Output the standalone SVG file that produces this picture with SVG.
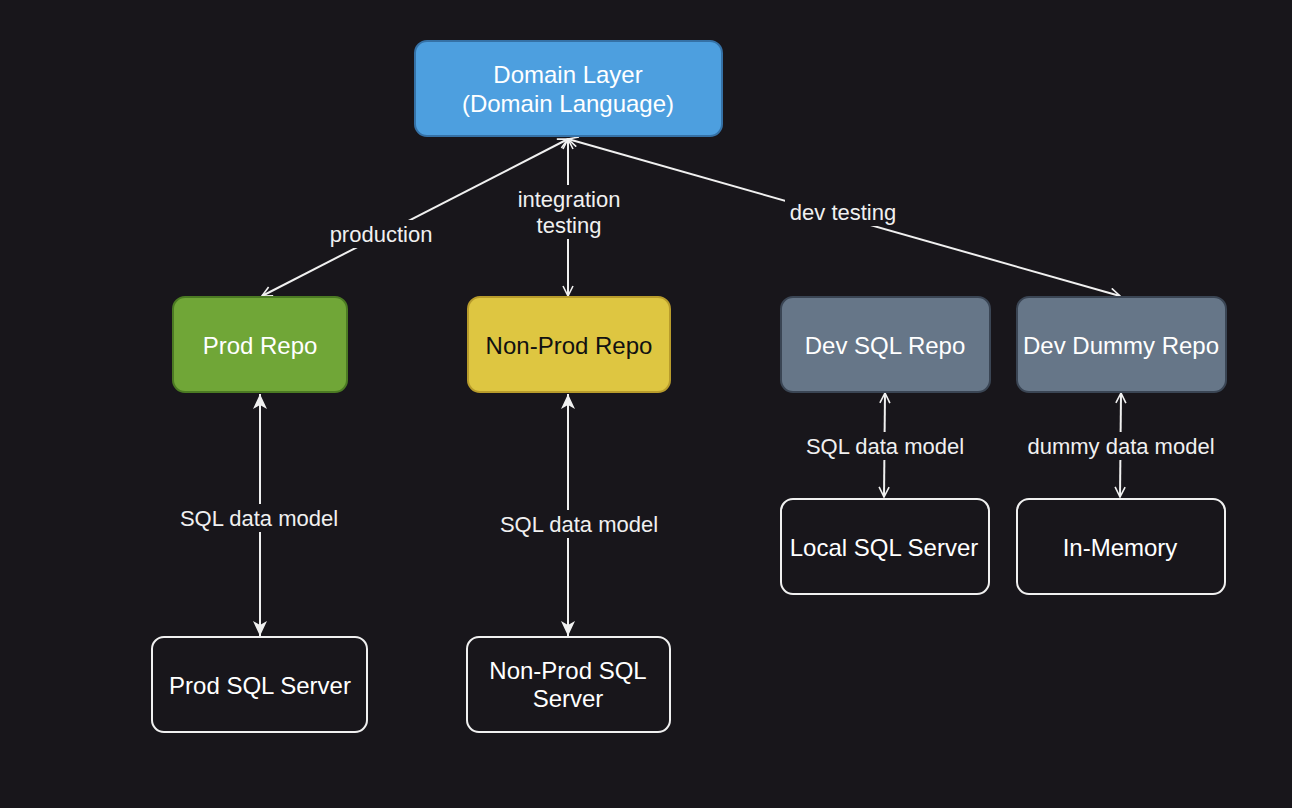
<svg xmlns="http://www.w3.org/2000/svg" width="1292" height="808" viewBox="0 0 1292 808">
<defs>
<marker id="open" viewBox="0 0 12 12" refX="11" refY="6" markerWidth="12" markerHeight="12" markerUnits="userSpaceOnUse" orient="auto-start-reverse">
<path d="M1,1 L11,6 L1,11" fill="none" stroke="#f0f0f0" stroke-width="1.6"/>
</marker>
<marker id="classic" viewBox="0 0 16 16" refX="15" refY="8" markerWidth="16" markerHeight="16" markerUnits="userSpaceOnUse" orient="auto-start-reverse">
<path d="M0,1 L15,8 L0,15 L4,8 Z" fill="#f0f0f0"/>
</marker>
<style>
.bg{fill:#18161b}
text{font-family:"Liberation Sans",Arial,Helvetica,sans-serif;text-anchor:middle;dominant-baseline:central}
.nt{font-size:24px;fill:#ffffff}
.lt{font-size:22px;fill:#f0f0f0}
.edge{fill:none;stroke:#f0f0f0;stroke-width:2}
.lbg{fill:#18161b}
.plain{fill:#18161b;stroke:#f0f0f0;stroke-width:2}
</style>
</defs>
<rect class="bg" x="0" y="0" width="1292" height="808"/>

<g id="connectors">
<line class="edge" x1="568" y1="139" x2="262" y2="296" marker-start="url(#open)" marker-end="url(#open)"/>
<line class="edge" x1="568" y1="139" x2="568" y2="296" marker-start="url(#open)" marker-end="url(#open)"/>
<line class="edge" x1="568" y1="139" x2="1120" y2="296" marker-start="url(#open)" marker-end="url(#open)"/>
<line class="edge" x1="260" y1="394" x2="260" y2="636" marker-start="url(#classic)" marker-end="url(#classic)"/>
<line class="edge" x1="568" y1="394" x2="568" y2="636" marker-start="url(#classic)" marker-end="url(#classic)"/>
<line class="edge" x1="885" y1="393" x2="884" y2="497" marker-start="url(#open)" marker-end="url(#open)"/>
<line class="edge" x1="1121" y1="393" x2="1120" y2="497" marker-start="url(#open)" marker-end="url(#open)"/>

<rect class="lbg" x="326" y="220" width="110" height="28"/>
<text class="lt" x="381" y="234">production</text>
<rect class="lbg" x="512" y="185" width="114" height="54"/>
<text class="lt" x="569" y="199">integration</text>
<text class="lt" x="569" y="225">testing</text>
<rect class="lbg" x="785" y="198" width="116" height="28"/>
<text class="lt" x="843" y="212">dev testing</text>
<rect class="lbg" x="176" y="504" width="166" height="28"/>
<text class="lt" x="259" y="518">SQL data model</text>
<rect class="lbg" x="496" y="510" width="166" height="28"/>
<text class="lt" x="579" y="524">SQL data model</text>
<rect class="lbg" x="802" y="432" width="166" height="28"/>
<text class="lt" x="885" y="446">SQL data model</text>
<rect class="lbg" x="1024" y="432" width="194" height="28"/>
<text class="lt" x="1121" y="446">dummy data model</text>
</g>

<g id="domain-layer">
<rect x="415" y="41" width="307" height="95" rx="12" fill="#4d9fdf" stroke="#3571a6" stroke-width="2"/>
<text class="nt" x="568" y="74">Domain Layer</text>
<text class="nt" x="568" y="103">(Domain Language)</text>
</g>

<g id="prod-repo">
<rect x="173" y="297" width="174" height="95" rx="12" fill="#70a637" stroke="#4b7a23" stroke-width="2"/>
<text class="nt" x="260" y="345">Prod Repo</text>
</g>

<g id="nonprod-repo">
<rect x="468" y="297" width="202" height="95" rx="12" fill="#dec641" stroke="#b89c2c" stroke-width="2"/>
<text class="nt" x="569" y="345" style="fill:#111111">Non-Prod Repo</text>
</g>

<g id="dev-sql-repo">
<rect x="781" y="297" width="209" height="95" rx="12" fill="#667688" stroke="#3a4554" stroke-width="2"/>
<text class="nt" x="885" y="345">Dev SQL Repo</text>
</g>

<g id="dev-dummy-repo">
<rect x="1017" y="297" width="209" height="95" rx="12" fill="#667688" stroke="#3a4554" stroke-width="2"/>
<text class="nt" x="1121" y="345">Dev Dummy Repo</text>
</g>

<g id="prod-sql-server">
<rect class="plain" x="152" y="637" width="215" height="95" rx="12"/>
<text class="nt" x="260" y="685">Prod SQL Server</text>
</g>

<g id="nonprod-sql-server">
<rect class="plain" x="467" y="637" width="203" height="95" rx="12"/>
<text class="nt" x="568" y="670">Non-Prod SQL</text>
<text class="nt" x="568" y="698">Server</text>
</g>

<g id="local-sql-server">
<rect class="plain" x="781" y="499" width="208" height="95" rx="12"/>
<text class="nt" x="884" y="547">Local SQL Server</text>
</g>

<g id="in-memory">
<rect class="plain" x="1017" y="499" width="208" height="95" rx="12"/>
<text class="nt" x="1120" y="547">In-Memory</text>
</g>
</svg>
